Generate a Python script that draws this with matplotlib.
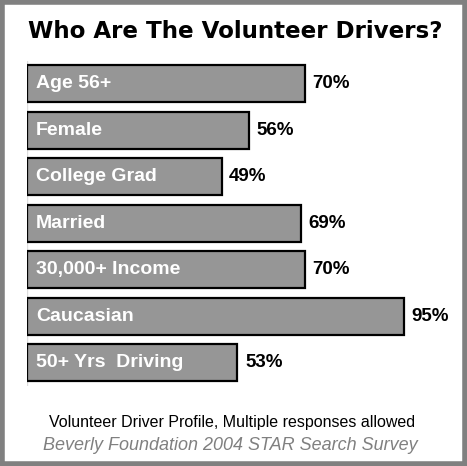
import numpy as np
import matplotlib.pyplot as plt
from matplotlib.patches import Rectangle

## Data

categories = ["Age 56+", "Female", "College Grad", "Married",
              "30,000+ Income", "Caucasian", "50+ Yrs  Driving"]
values = [70, 56, 49, 69, 70, 95, 53]
value_labels = ["70%", "56%", "49%", "69%", "70%", "95%", "53%"]

## Figure

fig = plt.figure(figsize=(4.67, 4.66), dpi=100)
fig.patch.set_facecolor("white")

# gray frame around the whole picture
fig.patches.append(Rectangle((0.004, 0.004), 0.992, 0.992, transform=fig.transFigure,
                             fill=False, edgecolor="#808080", linewidth=4))

ax = fig.add_axes([27 / 467, 1 - 386 / 466, 397 / 467, 325.5 / 466])
y = np.arange(len(categories))

ax.barh(y, values, height=0.8, color="#969696", edgecolor="black", linewidth=1.6)

for yi, cat, v, lab in zip(y, categories, values, value_labels):
    ax.annotate(cat, (0, yi), xytext=(6.5, 0), textcoords="offset points",
                ha="left", va="center", color="white", fontsize=14,
                fontweight="bold", family="Liberation Sans")
    ax.annotate(lab, (v, yi), xytext=(5.5, 0), textcoords="offset points",
                ha="left", va="center", color="black", fontsize=13.5,
                fontweight="bold", family="Liberation Sans")

ax.set_xlim(0, 100)
ax.set_ylim(len(categories) - 0.5, -0.5)
ax.axis("off")
ax.axvline(0, color="#dddddd", linewidth=1, zorder=0)

fig.text(0.504, 1 - 32 / 466, "Who Are The Volunteer Drivers?", ha="center", va="center",
         fontsize=16.6, fontweight="bold", family="DejaVu Sans")

fig.text(0.497, 1 - 422 / 466, "Volunteer Driver Profile, Multiple responses allowed",
         ha="center", va="center", fontsize=11.5, family="Liberation Sans")
fig.text(0.494, 1 - 446 / 466, "Beverly Foundation 2004 STAR Search Survey",
         ha="center", va="center", fontsize=13, style="italic", color="#808080",
         family="Liberation Sans")

fig.savefig("out.png", dpi=100, facecolor="white")
